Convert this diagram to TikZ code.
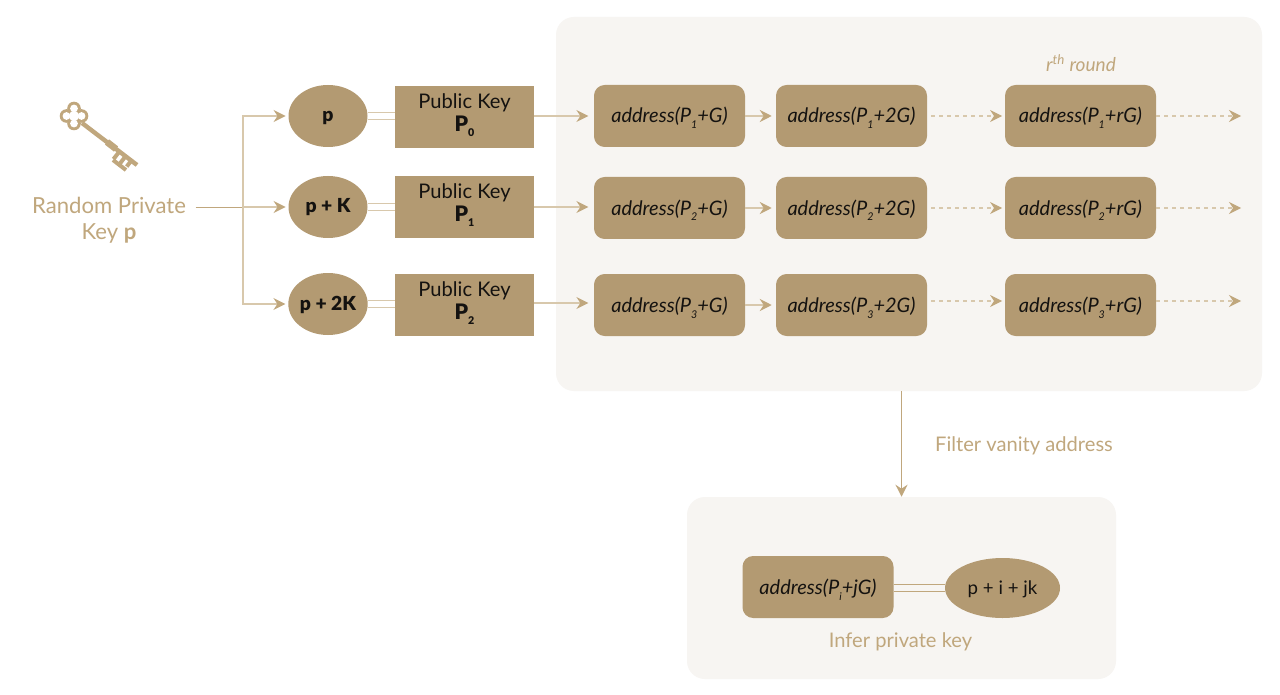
\documentclass[tikz,border=0pt]{standalone}
\usepackage{fontspec}
\setmainfont{Lato}
\newfontfamily\blackfont{Lato Black}
\usetikzlibrary{positioning, arrows.meta, shapes.geometric}
\definecolor{ktan}{HTML}{C0A77D}
\definecolor{kline}{HTML}{D8C8AC}
\definecolor{kfill}{HTML}{B39A72}
\definecolor{kpanel}{HTML}{F7F5F2}
\definecolor{kink}{HTML}{141210}
\newcommand{\addr}[2]{\textit{address(P\smash{\raisebox{-4.5pt}{\footnotesize #1}}+#2)}}
\newcommand{\pubkey}[1]{Public Key\\[-0.5pt]{\blackfont\fontsize{16}{18}\selectfont P\smash{\raisebox{-3.5pt}{\footnotesize #1}}\rule[-7pt]{0pt}{1pt}}}
\tikzset{
  panel/.style={fill=kpanel, rounded corners=13.5pt, inner sep=0pt},
  lbl/.style={text=ktan, font=\fontsize{15.1}{18}\selectfont, align=center},
  addrbox/.style={fill=kfill, rounded corners=8pt, minimum width=113.25pt, minimum height=46.5pt,
    inner sep=0pt, text=kink, text height=13pt, text depth=2.5pt, font=\fontsize{15}{16}\selectfont},
  pubbox/.style={fill=kfill, minimum width=104.25pt, minimum height=46.5pt, inner sep=0pt,
    text=kink, align=center, font=\fontsize{15.1}{18}\selectfont},
  seedell/.style={ellipse, fill=kfill, minimum width=59.25pt, minimum height=46.5pt, inner sep=0pt,
    text=kink, text height=10pt, text depth=1pt, font=\fontsize{14.5}{16}\selectfont\blackfont},
  link/.style={draw=kline, line width=0.9pt, -{Stealth[length=9pt,width=9pt,inset=3pt,color=ktan]}},
  dotlink/.style={link, dash pattern=on 3pt off 3pt},
  twin/.style={draw=kline, line width=0.8pt, double=white, double distance=4pt},
}
\begin{document}
\begin{tikzpicture}[x=0.75pt, y=-0.75pt]
    \useasboundingbox (0,0) rectangle (1280,695);
    \fill[white] (0,0) rectangle (1280,695);
    \node[panel, minimum width=529.5pt, minimum height=280.5pt] (panelA) at (909,204) {};
    \node[panel, minimum width=321.75pt, minimum height=136.5pt] (panelB) at (901.5,588) {};

    % key
    \foreach \dx/\dy in {0/-7.5,7.5/0,0/7.5,-7.5/0}
      \fill[ktan] (74+\dx,116+\dy) circle[radius=6.8];
    \foreach \dx/\dy in {0/-7.5,7.5/0,0/7.5,-7.5/0}
      \fill[white] (74+\dx,116+\dy) circle[radius=3.9];
    \fill[white] (74,116) circle[radius=5];
    \draw[ktan, line width=3.3pt] (82,123) -- (137,165);
    \draw[ktan, line width=5pt] (107,142) -- (116,149);
    \foreach \tx/\ty/\tl in {119/152/9,125/157/10,131/161/7}
      \draw[ktan, line width=3pt] (\tx,\ty) -- ++(-0.61*\tl,0.79*\tl);
    \draw[ktan, line width=3pt] (113,160) -- (126,170);

    \node[lbl, font=\fontsize{16.6}{19.5}\selectfont] (rkey) at (109,220) {Random Private\\Key \textbf{p}};

    \node[seedell] (e0) at (328,116) {p};
    \node[seedell] (e1) at (328,207) {p + K};
    \node[seedell] (e2) at (328,304) {p + 2K};
    \node[pubbox] (k0) at (464.5,117) {\pubkey{0}};
    \node[pubbox] (k1) at (464.5,207) {\pubkey{1}};
    \node[pubbox] (k2) at (464.5,305) {\pubkey{2}};

    \node[addrbox] (a11) at (669.5,116) {\addr{1}{G}};
    \node[addrbox] (a12) at (851.5,116) {\addr{1}{2G}};
    \node[addrbox] (a13) at (1080.5,116) {\addr{1}{rG}};
    \node[addrbox] (a21) at (669.5,208) {\addr{2}{G}};
    \node[addrbox] (a22) at (851.5,208) {\addr{2}{2G}};
    \node[addrbox] (a23) at (1080.5,208) {\addr{2}{rG}};
    \node[addrbox] (a31) at (669.5,305) {\addr{3}{G}};
    \node[addrbox] (a32) at (851.5,305) {\addr{3}{2G}};
    \node[addrbox] (a33) at (1080.5,305) {\addr{3}{rG}};
    \coordinate (end1) at (1241,116);
    \coordinate (end2) at (1241,208);
    \coordinate (end3) at (1241,301);
    \coordinate (row3) at (560,303);
    \coordinate (fork) at (243,207);

    \node[lbl, font=\fontsize{14.3}{16}\selectfont\itshape] (round) at (1081,63) {r\textsuperscript{th} round};
    \node[lbl] (filter) at (1024,446) {Filter vanity address};

    \node[addrbox] (ai) at (818,587) {\addr{\textit{i}}{\textit{j}G}};
    \node[seedell, minimum width=86.25pt, minimum height=45pt, text height=11pt, font=\fontsize{14}{16}\selectfont] (ej) at (1002.5,588) {p + i + jk};
    \node[lbl] (infer) at (900.5,642) {Infer private key};

    % fork from the key label
    \draw[ktan, line width=0.7pt, shorten <=3.75pt] (rkey.east |- fork) -- (fork);
    \draw[link, shorten >=2pt] (fork) |- (e0.west);
    \draw[link, shorten >=2pt] (fork) -- (e1.west);
    \draw[link, shorten >=2pt] (fork) |- (e2.west);

    \foreach \n in {0,1,2} {
      \draw[twin] (e\n.east) -- (k\n.west |- e\n.east);
    }
    \draw[link, shorten >=4pt] (k0.east |- a11.west) -- (a11.west);
    \draw[link, shorten >=4pt] (k1.east) -- (a21.west |- k1.east);
    \draw[link, shorten >=4pt] (k2.east |- row3) -- (a31.west |- row3);
    \foreach \r in {1,2,3} {
      \draw[link, shorten >=3pt] (a\r1.east) -- (a\r2.west);
      \draw[dotlink, shorten <=3pt, shorten >=2pt] (a\r2.east |- end\r) -- (a\r3.west |- end\r);
      \draw[dotlink] (a\r3.east |- end\r) -- (end\r);
    }
    \draw[link, draw=ktan] (panelB.north |- panelA.south) -- (panelB.north);
    \draw[twin, draw=ktan, double=kpanel] (ai.east |- ej.west) -- (ej.west);
\end{tikzpicture}
\end{document}
